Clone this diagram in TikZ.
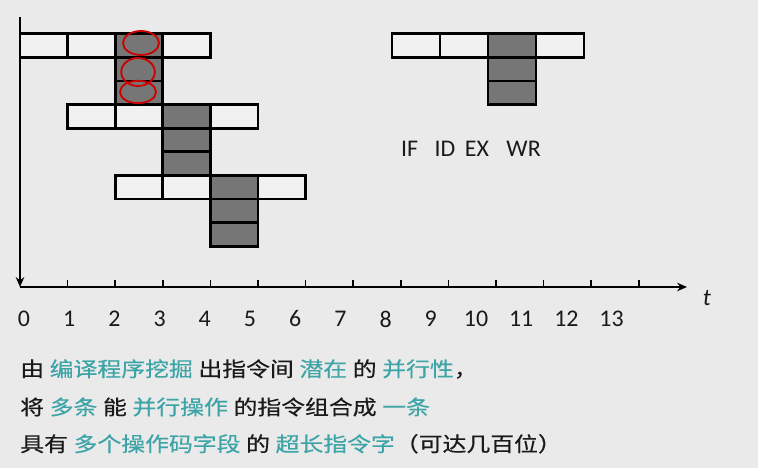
\documentclass[tikz,border=0pt]{standalone}
\usepackage{graphicx}
\usepackage{fontspec}
\setmainfont{Carlito}
\newfontfamily\cjk[FakeBold=0.4]{Noto Sans CJK SC}
\usetikzlibrary{arrows.meta, positioning}

\definecolor{bgcol}{HTML}{EAEAEA}
\definecolor{boxcol}{HTML}{F1F1F1}
\definecolor{excol}{HTML}{767676}
\definecolor{hlcol}{HTML}{3DA4A7}
\definecolor{inkcol}{HTML}{1A1A1A}
\newcommand{\hl}[1]{\textcolor{hlcol}{#1}}
\newcommand{\gap}{\hspace{0.12cm}}
\newcommand{\wide}[1]{\scalebox{1.17}[1]{#1}}

\begin{document}
\begin{tikzpicture}[
    stage/.style={rectangle, draw=black, line width=2pt, fill=boxcol, minimum width=1.19cm, minimum height=0.59cm, inner sep=0pt, outer sep=0pt},
    exstage/.style={stage, fill=excol},
    axis/.style={line width=1.4pt, -{Stealth[length=7pt, width=6pt]}},
    tick/.style={line width=1.2pt},
    num/.style={font=\fontsize{17}{18}\selectfont, text=inkcol, inner sep=0pt},
    txtline/.style={anchor=west, inner sep=0pt, font=\cjk\fontsize{14.5}{18}\selectfont, text=inkcol},
    scribble/.style={draw=red!80!black, line width=1.3pt}
]
% canvas
\fill[bgcol] (-0.5,-4.525) rectangle (18.45,7.175);
\useasboundingbox (-0.5,-4.525) rectangle (18.45,7.175);

% === Axes ===
\coordinate (O) at (0,0);
\coordinate (ytop) at (0,6.75);
\coordinate (xend) at (16.675,0);
\draw[axis] (ytop) -- (O);
\draw[axis] (O) -- (xend);
\foreach \k in {1,...,13}
    \draw[tick] ({\k*1.19},0) -- ++(0,0.175);
\node[font=\itshape\fontsize{17}{18}\selectfont, text=inkcol] (tlabel) at (17.175,-0.275) {t};
\foreach \k in {0,...,13}
    \node[num] (n\k) at ({0.1+\k*1.13},-0.8) {\k};

% === Pipeline: three instructions ===
\foreach \i/\top in {1/6.33, 2/4.56, 3/2.79} {
    \node[stage, anchor=north west] (if\i) at ({(\i-1)*1.19},\top) {};
    \node[stage, right=0pt of if\i] (id\i) {};
    \node[exstage, right=0pt of id\i] (ex\i) {};
    \node[stage, right=0pt of ex\i] (wr\i) {};
    \node[exstage, below=0pt of ex\i] (exa\i) {};
    \node[exstage, below=0pt of exa\i] (exb\i) {};
}

% === Legend (right) ===
\begin{scope}[stage/.append style={minimum width=1.2cm}]
    \node[stage, anchor=north west] (lif) at (9.3,6.33) {};
    \node[stage, right=0pt of lif] (lid) {};
    \node[exstage, right=0pt of lid] (lex) {};
    \node[stage, right=0pt of lex] (lwr) {};
    \node[exstage, below=0pt of lex] (lexa) {};
    \node[exstage, below=0pt of lexa] (lexb) {};
\end{scope}
\foreach \name/\x in {IF/9.74, ID/10.625, EX/11.425, WR/12.59}
    \node[num] (l\name) at (\x,3.45) {\name};

% red marks
\draw[scribble] (3.025,6.1) ellipse [x radius=0.45, y radius=0.3];
\draw[scribble] (2.95,5.375) ellipse [x radius=0.42, y radius=0.35];
\draw[scribble] (2.95,4.875) ellipse [x radius=0.45, y radius=0.28];

% === Text ===
\node[txtline] (line1) at (0,-2.05) {\wide{由\gap\hl{编译程序挖掘}\gap{}出指令间\gap\hl{潜在}\gap{}的\gap\hl{并行性}，}};
\node[txtline] (line2) at (0,-3.0) {\wide{将\gap\hl{多条}\gap{}能\gap\hl{并行操作}\gap{}的指令组合成\gap\hl{一条}}};
\node[txtline] (line3) at (0,-3.92) {\wide{具有\gap\hl{多个操作码字段}\gap{}的\gap\hl{超长指令字}（可达几百位）}};

\end{tikzpicture}
\end{document}
